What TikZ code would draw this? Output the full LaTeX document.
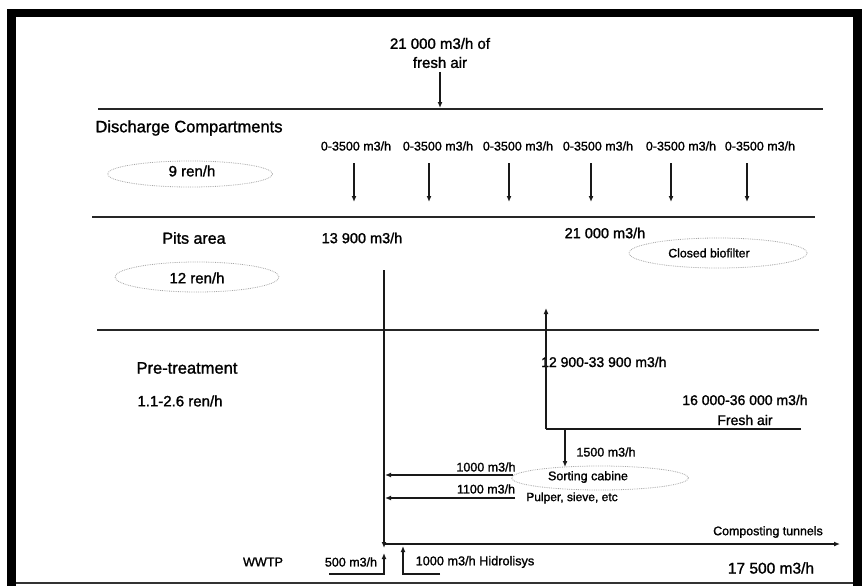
\documentclass[tikz,border=0pt]{standalone}
\usepackage{fontspec}
\setmainfont{Liberation Sans}[FakeBold=1.4]
\usetikzlibrary{arrows.meta,shapes.geometric}
\tikzset{
  lbl/.style={inner sep=0pt, font=\fontsize{#1}{#1}\selectfont},
  lbl/.default=15,
  sepline/.style={line width=2pt, draw=black!85},
  flow/.style={line width=1.5pt, draw=black!90},
  flowar/.style={flow, -{Latex[length=6pt,width=5pt]}},
  oval/.style={ellipse, draw=black!35, densely dotted, line width=0.8pt, inner sep=0pt},
}
\begin{document}
\begin{tikzpicture}[x=1pt,y=-1pt]
\useasboundingbox (0,0) rectangle (865,586);
% frame
\fill[black] (7,9) rectangle (862,17);
\fill[black] (7,9) rectangle (16,586);
\fill[black] (853,9) rectangle (862,586);
\draw[line width=1.5pt, black!80] (16,583) -- (853,583);

% separator lines
\coordinate (s1a) at (98,109); \coordinate (s1b) at (823,109);
\coordinate (s2a) at (92,217); \coordinate (s2b) at (815,217);
\coordinate (s3a) at (97,330); \coordinate (s3b) at (819,330);
\draw[sepline] (s1a) -- (s1b);
\draw[sepline] (s2a) -- (s2b);
\draw[sepline] (s3a) -- (s3b);

% top inflow
\node[lbl=15, align=center] (fresh) at (440,53) {21 000 m3/h of\\[4pt]fresh air};
\coordinate (fin) at (440,108);
\draw[flowar, line width=1.2pt] (440,72) -- (fin);

% discharge compartments
\node[lbl=16.5] (disc) at (189,128) {Discharge Compartments};
\node[oval, minimum width=165pt, minimum height=26pt] (e9) at (190,174) {};
\node[lbl=15] (t9) at (192,171) {9 ren/h};

\foreach \i/\lx/\ax in {1/356/354, 2/438/429, 3/518/509, 4/598/591, 5/681/671, 6/760/747}{
  \node[lbl=12.5] (c\i) at (\lx,146) {0-3500 m3/h};
  \coordinate (ca\i) at (\ax,163);
  \coordinate (cb\i) at (\ax,202);
  \draw[flowar, line width=1.3pt] (ca\i) -- (cb\i);
}

% pits area
\node[lbl=16] (pits) at (194,238) {Pits area};
\node[lbl=14.5] (f139) at (362,238) {13 900 m3/h};
\node[oval, minimum width=164pt, minimum height=30pt] (e12) at (197,277) {};
\node[lbl=15] (t12) at (197,278) {12 ren/h};
\node[lbl=14.5] (f21) at (605,233) {21 000 m3/h};
\node[oval, minimum width=178pt, minimum height=30pt] (bio) at (718,253) {};
\node[lbl=12.3] (tbio) at (709,253) {Closed biofilter};

% pre-treatment
\node[lbl=16.5] (pre) at (187,368) {Pre-treatment};
\node[lbl=15] (ren) at (180,401) {1.1-2.6 ren/h};
\node[lbl=14, anchor=west] (f129) at (541,362) {12 900-33 900 m3/h};
\node[lbl=14] (f160) at (745,400) {16 000-36 000 m3/h};
\node[lbl=14] (fa) at (745,420) {Fresh air};
\node[lbl=12.5] (f15) at (606,452) {1500 m3/h};
\node[oval, minimum width=177pt, minimum height=24pt] (sort) at (600,478) {};
\node[lbl=12.5] (tsort) at (588,477) {Sorting cabine};
\node[lbl=12] (pulp) at (572,498) {Pulper, sieve, etc};
\node[lbl=12.5] (f10) at (486,467) {1000 m3/h};
\node[lbl=12.5] (f11) at (486,489) {1100 m3/h};
\node[lbl=12.6] (wwtp) at (263,562) {WWTP};
\node[lbl=12.5] (f5) at (351,562) {500 m3/h};
\node[lbl=12.7] (hid) at (475,562) {1000 m3/h Hidrolisys};
\node[lbl=12.4] (comp) at (768,532) {Composting tunnels};
\node[lbl=15.5] (f175) at (771,568) {17 500 m3/h};

% main vertical collector
\coordinate (m1) at (384,270);
\coordinate (m2) at (384,548);
\draw[flowar] (m1) -- (m2);

% fresh air branch
\coordinate (fa0) at (801,429);
\coordinate (j1) at (546,429);
\coordinate (up) at (546,308);
\coordinate (j2) at (565,429);
\coordinate (sorttop) at (565,467);
\draw[flow] (fa0) -- (j1);
\draw[flowar] (j1) -- (up);
\draw[flowar] (j2) -- (sorttop);

% returns to collector
\coordinate (r1) at (513,475); \coordinate (r1e) at (385,475);
\coordinate (r2) at (515,498); \coordinate (r2e) at (385,498);
\draw[flowar] (r1) -- (r1e);
\draw[flowar] (r2) -- (r2e);

% composting tunnels
\coordinate (k0) at (384,544);
\coordinate (k1) at (840,544);
\draw[flowar] (k0) -- (k1);

% WWTP and hydrolysis feeds
\coordinate (w0) at (329,574); \coordinate (w1) at (384,574); \coordinate (w2) at (384,553);
\draw[flowar] (w0) -- (w1) -- (w2);
\coordinate (h0) at (440,574); \coordinate (h1) at (403,574); \coordinate (h2) at (403,546);
\draw[flowar] (h0) -- (h1) -- (h2);
\end{tikzpicture}
\end{document}
